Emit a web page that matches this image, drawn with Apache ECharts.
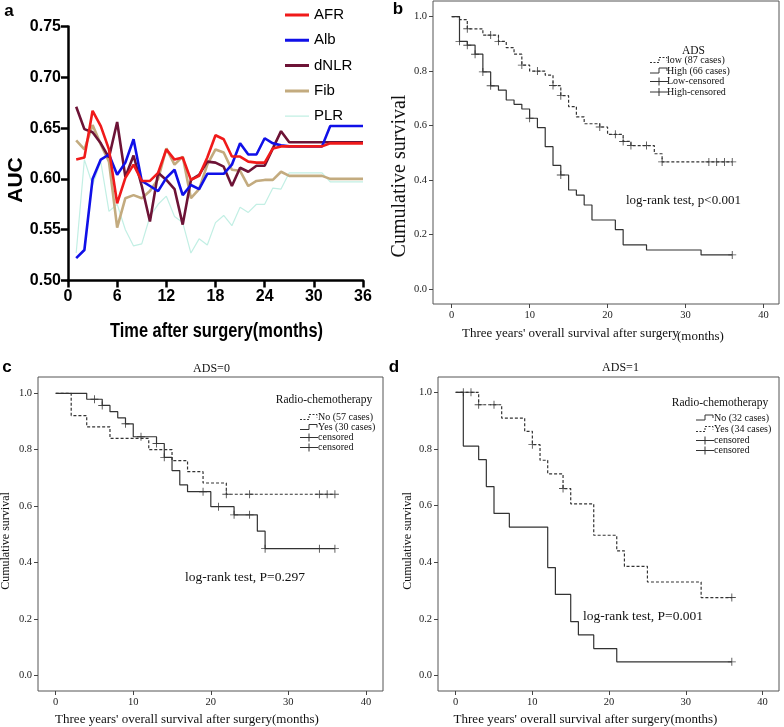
<!DOCTYPE html>
<html>
<head>
<meta charset="utf-8" />
<style>
  html, body {margin: 0; padding: 0; background: #fff;}
  #chart {width: 784px; height: 727px;}
</style>
<script src="https://cdn.jsdelivr.net/npm/echarts@6/dist/echarts.min.js"></script>
</head>
<body>
<div id="chart"></div>
<script>
// ---- panel a : time-dependent AUC, months 1..36 ----
var months = [1,2,3,4,5,6,7,8,9,10,11,12,13,14,15,16,17,18,19,20,21,22,23,24,25,26,27,28,29,30,31,32,33,34,35,36];
var afr  = [0.619,0.621,0.667,0.652,0.629,0.576,0.601,0.614,0.598,0.598,0.606,0.629,0.619,0.621,0.599,0.603,0.621,0.643,0.639,0.622,0.622,0.617,0.616,0.616,0.630,0.632,0.632,0.632,0.632,0.632,0.632,0.635,0.635,0.635,0.635,0.635];
var alb  = [0.522,0.530,0.600,0.619,0.624,0.604,0.616,0.639,0.598,0.593,0.588,0.601,0.609,0.584,0.594,0.590,0.605,0.605,0.605,0.614,0.635,0.624,0.624,0.640,0.635,0.633,0.632,0.632,0.632,0.632,0.632,0.652,0.652,0.652,0.652,0.652];
var dnlr = [0.671,0.649,0.646,0.635,0.621,0.656,0.602,0.623,0.593,0.558,0.606,0.599,0.590,0.555,0.599,0.604,0.617,0.616,0.612,0.593,0.611,0.607,0.613,0.613,0.630,0.647,0.636,0.636,0.636,0.636,0.636,0.636,0.636,0.636,0.636,0.636];
var fib  = [0.638,0.629,0.653,0.634,0.617,0.552,0.581,0.584,0.581,0.588,0.600,0.630,0.614,0.622,0.581,0.590,0.614,0.629,0.626,0.609,0.608,0.593,0.598,0.599,0.599,0.607,0.603,0.603,0.603,0.603,0.603,0.600,0.600,0.600,0.600,0.600];
var plr  = [0.527,0.619,0.594,0.617,0.568,0.575,0.550,0.534,0.536,0.563,0.575,0.583,0.563,0.557,0.527,0.541,0.535,0.557,0.564,0.554,0.572,0.567,0.575,0.575,0.591,0.590,0.606,0.606,0.606,0.606,0.606,0.597,0.597,0.597,0.597,0.597];

// ---- panel b : ADS low / high (time of drop, survival after drop) ----
var bLowT  = [0,1,2,4,6,7,8,9,10,12,13,14,15,16,17,19,20,22,23,26,27];
var bLowS  = [1,0.989,0.955,0.932,0.909,0.886,0.862,0.822,0.800,0.785,0.747,0.710,0.670,0.632,0.607,0.595,0.568,0.542,0.527,0.497,0.467];
var bLowC  = [2,5,6,9,11,13,14,19,21,22,23,25,27,33,34,35,36];
var bHighT = [0,1,2,3,4,5,6,7,8,9,10,11,12,13,14,15,16,17,18,21,22,25,32];
var bHighS = [1,0.909,0.895,0.862,0.797,0.746,0.730,0.694,0.678,0.661,0.627,0.593,0.523,0.454,0.419,0.364,0.345,0.309,0.254,0.219,0.163,0.144,0.126];
var bHighC = [1,2,3,4,5,10,14,36];

// ---- panel c : ADS=0, radio-chemotherapy no / yes ----
var cNoT  = [0,2,4,7,12,15,17,19,22];
var cNoS  = [1,0.921,0.881,0.840,0.800,0.761,0.722,0.682,0.642];
var cNoC  = [22,25,34,35,36];
var cYesT = [0,4,6,7,8,9,10,13,14,15,16,17,20,23,26,27];
var cYesS = [1,0.979,0.957,0.935,0.913,0.892,0.846,0.822,0.773,0.726,0.675,0.651,0.598,0.569,0.511,0.449];
var cYesC = [5,6,9,11,13,14,19,21,23,25,27,34,36];

// ---- panel d : ADS=1, radio-chemotherapy no / yes ----
var dNoT  = [0,1,3,4,5,7,12,13,15,16,18,21];
var dNoS  = [1,0.810,0.762,0.667,0.572,0.524,0.381,0.286,0.190,0.143,0.095,0.048];
var dNoC  = [36];
var dYesT = [0,3,6,9,10,11,12,14,15,18,21,22,25,32];
var dYesS = [1,0.956,0.909,0.862,0.815,0.760,0.712,0.660,0.606,0.495,0.440,0.385,0.330,0.275];
var dYesC = [1,2,3,5,10,14,36];

var kmTicksX = [0,10,20,30,40];
var kmTicksY = [0,0.2,0.4,0.6,0.8,1.0];

var SANS = "'Liberation Sans', Arial, sans-serif";
var SERIF = "'Liberation Serif', 'Times New Roman', serif";
var INK = '#333';
var PLUS = 'path://M4,0H5V4H9V5H5V9H4V5H0V4H4Z';
// legend icons: tiny corner dots fix the box so the bar keeps its thickness
var ICON_THICK = 'path://M0,0H0.01V0.01H0Z M0,5.5H24V8.5H0Z M23.99,13.99H24V14H23.99Z';
var ICON_THIN  = 'path://M0,0H0.01V0.01H0Z M0,6.4H24V7.6H0Z M23.99,13.99H24V14H23.99Z';

function zip(xs, ys) { return xs.map(function (x, i) { return [x, ys[i]]; }); }

function survAt(T, S, t) {
  var v = S[0];
  for (var i = 0; i < T.length; i++) { if (T[i] <= t) v = S[i]; }
  return v;
}

function kmSeries(idx, T, S, C, dashed) {
  var line = zip(T, S);
  if (T[T.length - 1] < 36) line.push([36, S[S.length - 1]]);
  return [
    { type: 'line', step: 'end', xAxisIndex: idx, yAxisIndex: idx, symbol: 'none', data: line,
      lineStyle: { color: INK, width: 1.2, type: dashed ? [3, 2] : 'solid' }, silent: true },
    { type: 'scatter', xAxisIndex: idx, yAxisIndex: idx, symbol: PLUS, symbolSize: 8,
      itemStyle: { color: '#222' }, data: C.map(function (t) { return [t, survAt(T, S, t)]; }), silent: true }
  ];
}

function kmX(idx, min, max) {
  return { gridIndex: idx, type: 'value', min: min, max: max,
    axisLine: { show: false, onZero: false }, splitLine: { show: false },
    axisTick: { show: true, length: 4, customValues: kmTicksX, lineStyle: { color: '#444' } },
    axisLabel: { customValues: kmTicksX, margin: 6, fontFamily: SERIF, fontSize: 10.5, color: '#222' } };
}
function kmY(idx, min, max) {
  return { gridIndex: idx, type: 'value', min: min, max: max,
    axisLine: { show: false, onZero: false }, splitLine: { show: false },
    axisTick: { show: true, length: 4, customValues: kmTicksY, lineStyle: { color: '#444' } },
    axisLabel: { customValues: kmTicksY, margin: 6, fontFamily: SERIF, fontSize: 10.5, color: '#222',
      formatter: function (v) { return v.toFixed(1); } } };
}

function txt(x, y, s, size, opts) {
  opts = opts || {};
  return { type: 'text', x: x, y: y, rotation: opts.rot || 0, scaleX: opts.sx || 1, silent: true,
    style: { text: s, fontFamily: opts.font || SERIF, fontSize: size, fontWeight: opts.bold ? 'bold' : 'normal',
      fill: opts.color || '#111', align: opts.align || 'center', verticalAlign: 'middle' } };
}

function legendBox(x0, textX, titleX, titleY, title, rows) {
  var els = [txt(titleX, titleY, title, 11.5)];
  rows.forEach(function (r) {
    var y = r.y;
    if (r.kind === 'plus') {
      els.push({ type: 'line', silent: true, shape: { x1: x0, y1: y, x2: x0 + 18, y2: y }, style: { stroke: INK, lineWidth: 1 } });
      els.push({ type: 'line', silent: true, shape: { x1: x0 + 9, y1: y - 4, x2: x0 + 9, y2: y + 4 }, style: { stroke: INK, lineWidth: 1 } });
    } else {
      els.push({ type: 'polyline', silent: true,
        shape: { points: [[x0, y + 2], [x0 + 9, y + 2], [x0 + 9, y - 3], [x0 + 17, y - 3], [x0 + 17, y]] },
        style: { stroke: INK, lineWidth: 1, fill: null, lineDash: r.kind === 'dash' ? [2, 1.5] : null } });
    }
    els.push(txt(textX, y, r.text, 10, { align: 'left' }));
  });
  return els;
}

var chart = echarts.init(document.getElementById('chart'));

var aLabel = { fontFamily: SANS, fontWeight: 'bold', fontSize: 16, color: '#000' };
var aLine = { color: '#000', width: 2.5 };
var LETTER = { font: SANS, bold: true, color: '#000' };

var graphics = [
  txt(9, 11, 'a', 17, LETTER),
  txt(398, 9, 'b', 17, LETTER),
  txt(7, 367.5, 'c', 17, LETTER),
  txt(394, 367.5, 'd', 17, LETTER),
  txt(216.5, 331, 'Time after surgery(months)', 20, { font: SANS, bold: true, color: '#000', sx: 0.82 }),
  txt(16.5, 180, 'AUC', 21, { font: SANS, bold: true, color: '#000', rot: Math.PI / 2 }),
  // panel b texts
  txt(462, 334, "Three years' overall survival after surgery", 13, { align: 'left' }),
  txt(677, 337, '(months)', 13, { align: 'left' }),
  txt(400, 176, 'Cumulative survival', 20, { rot: Math.PI / 2 }),
  txt(626, 201, 'log-rank test, p<0.001', 13, { align: 'left' }),
  // panel c texts
  txt(211.5, 369, 'ADS=0', 12),
  txt(187, 720, "Three years' overall survival after surgery(months)", 13),
  txt(6, 541, 'Cumulative survival', 12, { rot: Math.PI / 2 }),
  txt(185, 577, 'log-rank test, P=0.297', 13.5, { align: 'left' }),
  // panel d texts
  txt(620.5, 368, 'ADS=1', 12),
  txt(585.5, 720, "Three years' overall survival after surgery(months)", 13),
  txt(407.5, 541, 'Cumulative survival', 12, { rot: Math.PI / 2 }),
  txt(583, 616, 'log-rank test, P=0.001', 13.5, { align: 'left' })
];
graphics = graphics
  .concat(legendBox(650, 667, 693.5, 51, 'ADS', [
    { y: 60.5, kind: 'dash', text: 'low (87 cases)' },
    { y: 71, kind: 'solid', text: 'High (66 cases)' },
    { y: 81.5, kind: 'plus', text: 'Low-censored' },
    { y: 92, kind: 'plus', text: 'High-censored' }]))
  .concat(legendBox(300, 318, 324, 400, 'Radio-chemotherapy', [
    { y: 417.5, kind: 'dash', text: 'No (57 cases)' },
    { y: 427.5, kind: 'solid', text: 'Yes (30 cases)' },
    { y: 437.5, kind: 'plus', text: 'censored' },
    { y: 447.5, kind: 'plus', text: 'censored' }]))
  .concat(legendBox(696, 714, 720, 403, 'Radio-chemotherapy', [
    { y: 418, kind: 'solid', text: 'No (32 cases)' },
    { y: 429.5, kind: 'dash', text: 'Yes (34 cases)' },
    { y: 440.5, kind: 'plus', text: 'censored' },
    { y: 450.5, kind: 'plus', text: 'censored' }]));

var aucSeries = [
  { name: 'PLR', data: plr, color: '#c2efe4', width: 1.2 },
  { name: 'Fib', data: fib, color: '#c3ab7f', width: 2.6 },
  { name: 'dNLR', data: dnlr, color: '#6d1336', width: 2.6 },
  { name: 'Alb', data: alb, color: '#1010e8', width: 2.6 },
  { name: 'AFR', data: afr, color: '#f01a1a', width: 2.6 }
].map(function (s) {
  return { name: s.name, type: 'line', xAxisIndex: 0, yAxisIndex: 0, symbol: 'none', color: s.color,
    data: zip(months, s.data), lineStyle: { color: s.color, width: s.width }, silent: true };
});

var option = {
  animation: false,
  backgroundColor: '#fff',
  grid: [
    { left: 68, top: 26.5, width: 295, height: 254 },
    { left: 433, top: 1, width: 346, height: 303, show: true, borderColor: '#555', borderWidth: 1 },
    { left: 38, top: 377, width: 345, height: 314, show: true, borderColor: '#555', borderWidth: 1 },
    { left: 438, top: 377, width: 341, height: 314, show: true, borderColor: '#555', borderWidth: 1 }
  ],
  legend: {
    data: [
      { name: 'AFR', icon: ICON_THICK }, { name: 'Alb', icon: ICON_THICK }, { name: 'dNLR', icon: ICON_THICK },
      { name: 'Fib', icon: ICON_THICK }, { name: 'PLR', icon: ICON_THIN }
    ],
    orient: 'vertical', left: 285, top: 7, padding: 0, itemWidth: 24, itemHeight: 14, itemGap: 9.3,
    textStyle: { fontFamily: SANS, fontSize: 15, lineHeight: 16, color: '#000' }
  },
  xAxis: [
    { gridIndex: 0, type: 'value', min: 0, max: 36, interval: 6,
      axisLine: { show: true, onZero: false, lineStyle: aLine },
      axisTick: { show: true, length: 7, lineStyle: aLine },
      axisLabel: Object.assign({ margin: 8 }, aLabel), splitLine: { show: false } },
    kmX(1, -2.4, 42.0),
    kmX(2, -2.28, 42.2),
    kmX(3, -2.3, 42.15)
  ],
  yAxis: [
    { gridIndex: 0, type: 'value', min: 0.5, max: 0.75, interval: 0.05,
      axisLine: { show: true, onZero: false, lineStyle: aLine },
      axisTick: { show: true, length: 7, lineStyle: aLine },
      axisLabel: Object.assign({ margin: 7, formatter: function (v) { return v.toFixed(2); } }, aLabel),
      splitLine: { show: false } },
    kmY(1, -0.054, 1.057),
    kmY(2, -0.056, 1.058),
    kmY(3, -0.055, 1.054)
  ],
  graphic: graphics,
  series: aucSeries
    .concat(kmSeries(1, bLowT, bLowS, bLowC, true))
    .concat(kmSeries(1, bHighT, bHighS, bHighC, false))
    .concat(kmSeries(2, cNoT, cNoS, cNoC, true))
    .concat(kmSeries(2, cYesT, cYesS, cYesC, false))
    .concat(kmSeries(3, dNoT, dNoS, dNoC, false))
    .concat(kmSeries(3, dYesT, dYesS, dYesC, true))
};

chart.setOption(option);
</script>
</body>
</html>
